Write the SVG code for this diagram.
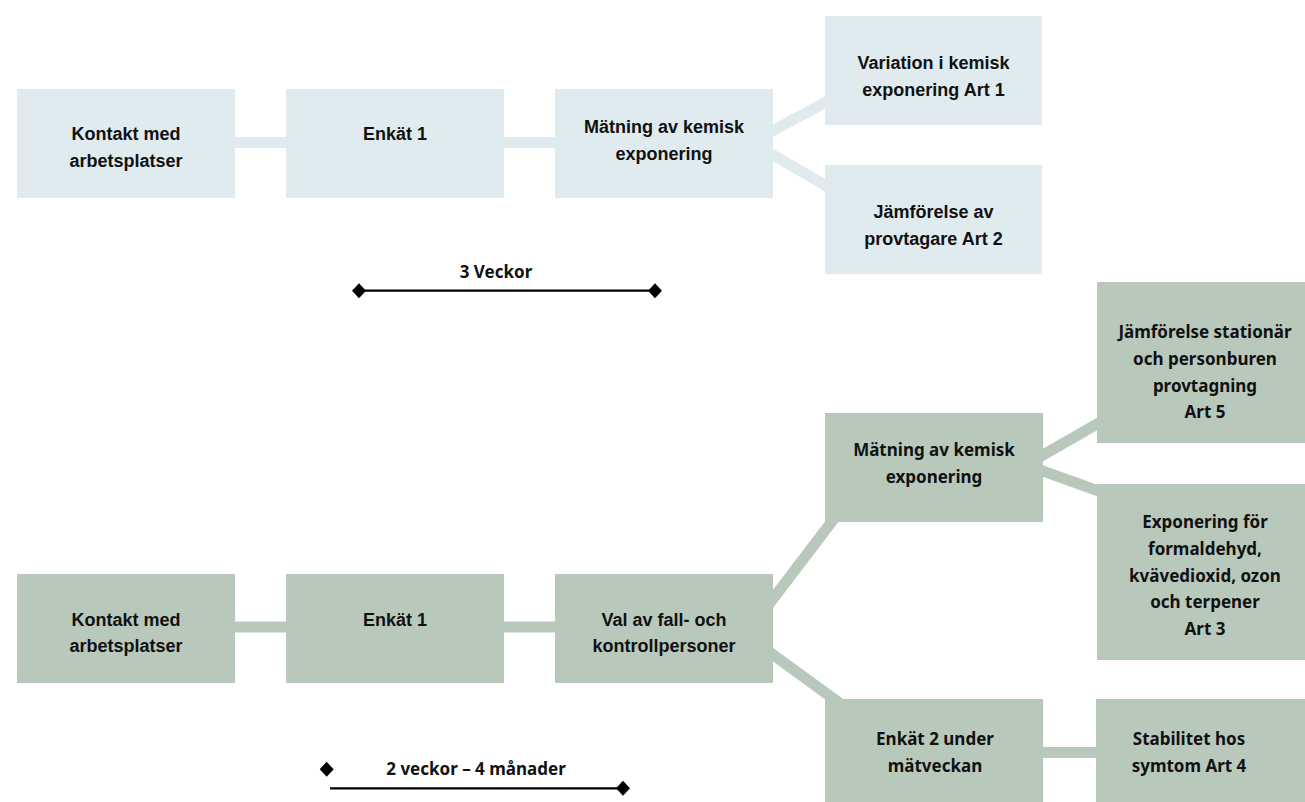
<svg xmlns="http://www.w3.org/2000/svg" width="1305" height="802" viewBox="0 0 1305 802">
<defs>
<style>
.nb{fill:#dfebef}
.ng{fill:#b8c9bc}
.cb{stroke:#dfebef;stroke-width:11;fill:none}
.cg{stroke:#b8c9bc;stroke-width:11;fill:none}
.tc{font-family:"Liberation Sans",Arial,sans-serif;font-weight:700;font-size:18px;fill:#111;text-anchor:middle}
.tw{font-family:"Noto Sans","Open Sans",sans-serif;font-weight:700;font-size:17px;fill:#111;text-anchor:middle}
.tl{font-family:"Noto Sans","Open Sans",sans-serif;font-weight:700;font-size:17px;fill:#111;text-anchor:middle}
.tline{stroke:#000;stroke-width:2.2;fill:none}
.dia{fill:#000}
</style>
<path id="dm" d="M0,-7.5 L7,0 L0,7.5 L-7,0 Z"/>
</defs>
<rect width="1305" height="802" fill="#fff"/>

<g id="connectors">
<line class="cb" x1="235" y1="142.5" x2="287" y2="142.5"/>
<line class="cb" x1="504" y1="142.5" x2="556" y2="142.5"/>
<line class="cb" x1="760" y1="137.5" x2="840" y2="94.7"/>
<line class="cb" x1="760" y1="147.5" x2="840" y2="193.7"/>
<line class="cg" x1="235" y1="627" x2="287" y2="627"/>
<line class="cg" x1="504" y1="627" x2="556" y2="627"/>
<line class="cg" x1="760" y1="615.9" x2="845" y2="504.3"/>
<line class="cg" x1="760" y1="645.3" x2="848" y2="709.2"/>
<line class="cg" x1="1030" y1="462.5" x2="1110" y2="416.5"/>
<line class="cg" x1="1030" y1="466.3" x2="1110" y2="495.2"/>
<line class="cg" x1="1043" y1="752.5" x2="1096" y2="752.5" stroke-width="10"/>
</g>

<g id="t_kontakt">
<rect class="nb" x="17" y="89" width="218" height="109"/>
<text class="tc" x="126" y="140">Kontakt med</text>
<text class="tc" x="126" y="166.7">arbetsplatser</text>
</g>
<g id="t_enkat1">
<rect class="nb" x="286" y="89" width="218" height="109"/>
<text class="tc" x="395" y="140">Enkät 1</text>
</g>
<g id="t_matning">
<rect class="nb" x="555" y="89" width="218" height="109"/>
<text class="tc" x="664" y="133.3">Mätning av kemisk</text>
<text class="tc" x="664" y="160">exponering</text>
</g>
<g id="t_variation">
<rect class="nb" x="825" y="16" width="217" height="109"/>
<text class="tc" x="933.5" y="69.3">Variation i kemisk</text>
<text class="tc" x="933.5" y="96">exponering Art 1</text>
</g>
<g id="t_jamforelse">
<rect class="nb" x="825" y="165" width="217" height="109"/>
<text class="tc" x="933.5" y="218.3">Jämförelse av</text>
<text class="tc" x="933.5" y="245">provtagare Art 2</text>
</g>

<g id="timeline_top">
<text class="tl" x="496" y="278.3">3 Veckor</text>
<line class="tline" x1="359" y1="290.7" x2="655" y2="290.7"/>
<use href="#dm" class="dia" x="359" y="290.7"/>
<use href="#dm" class="dia" x="655" y="290.7"/>
</g>

<g id="b_kontakt">
<rect class="ng" x="17" y="574" width="218" height="109"/>
<text class="tc" x="126" y="625.7">Kontakt med</text>
<text class="tc" x="126" y="652.3">arbetsplatser</text>
</g>
<g id="b_enkat1">
<rect class="ng" x="286" y="574" width="218" height="109"/>
<text class="tc" x="395" y="625.7">Enkät 1</text>
</g>
<g id="b_val">
<rect class="ng" x="555" y="574" width="218" height="109"/>
<text class="tc" x="664" y="625.7">Val av fall- och</text>
<text class="tc" x="664" y="652.3">kontrollpersoner</text>
</g>
<g id="b_matning">
<rect class="ng" x="825" y="413" width="218" height="109"/>
<text class="tw" x="934" y="456">Mätning av kemisk</text>
<text class="tw" x="934" y="482.7">exponering</text>
</g>
<g id="b_stationar">
<rect class="ng" x="1097" y="282" width="218" height="161"/>
<text class="tw" x="1205" y="338.3">Jämförelse stationär</text>
<text class="tw" x="1205" y="365">och personburen</text>
<text class="tw" x="1205" y="391.7">provtagning</text>
<text class="tw" x="1205" y="418.3">Art 5</text>
</g>
<g id="b_exponering">
<rect class="ng" x="1097" y="484" width="218" height="176"/>
<text class="tw" x="1205" y="528.3">Exponering för</text>
<text class="tw" x="1205" y="555">formaldehyd,</text>
<text class="tw" x="1205" y="581.7">kvävedioxid, ozon</text>
<text class="tw" x="1205" y="608.3">och terpener</text>
<text class="tw" x="1205" y="635">Art 3</text>
</g>
<g id="b_enkat2">
<rect class="ng" x="825" y="699" width="218" height="109"/>
<text class="tw" x="935" y="745">Enkät 2 under</text>
<text class="tw" x="935" y="771.7">mätveckan</text>
</g>
<g id="b_stabilitet">
<rect class="ng" x="1096" y="699" width="218" height="109"/>
<text class="tw" x="1189" y="745">Stabilitet hos</text>
<text class="tw" x="1189" y="771.7">symtom Art 4</text>
</g>

<g id="timeline_bottom">
<use href="#dm" class="dia" x="326.7" y="769.3"/>
<text class="tl" x="476" y="775">2 veckor – 4 månader</text>
<line class="tline" x1="330" y1="788.3" x2="623" y2="788.3"/>
<use href="#dm" class="dia" x="623" y="788.3"/>
</g>
</svg>
